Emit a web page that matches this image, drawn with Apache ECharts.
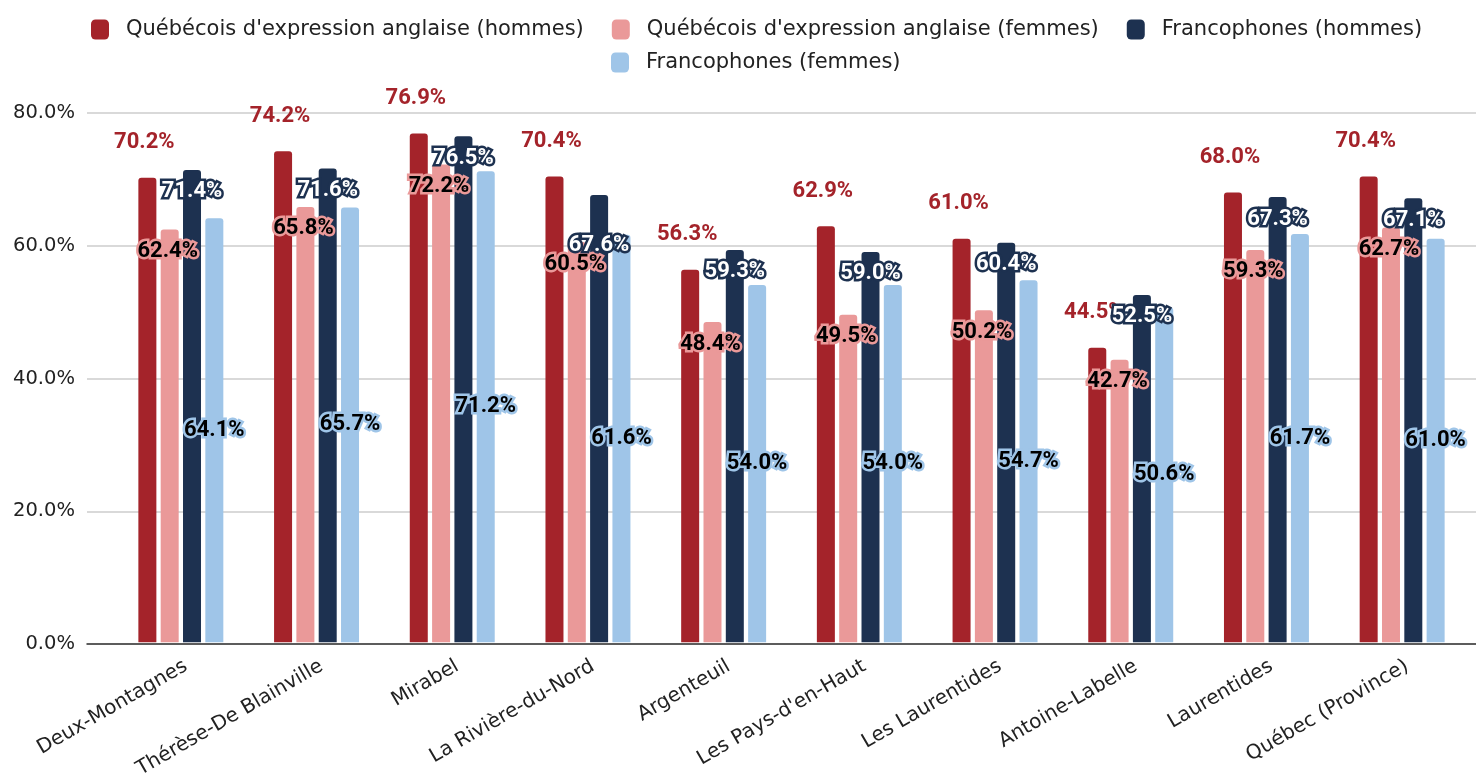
<!DOCTYPE html>
<html>
<head>
<meta charset="utf-8">
<script src="https://cdn.jsdelivr.net/npm/echarts@6/dist/echarts.min.js"></script>
<style>
html,body{margin:0;padding:0;background:#fff;}
#chart{width:1476px;height:781px;}
</style>
</head>
<body>
<div id="chart"></div>
<script>
const categories = ["Deux-Montagnes","Thérèse-De Blainville","Mirabel","La Rivière-du-Nord","Argenteuil","Les Pays-d'en-Haut","Les Laurentides","Antoine-Labelle","Laurentides","Québec (Province)"];
const seriesNames = ["Québécois d'expression anglaise (hommes)","Québécois d'expression anglaise (femmes)","Francophones (hommes)","Francophones (femmes)"];
const qeaHommes = [70.2, 74.2, 76.9, 70.4, 56.3, 62.9, 61.0, 44.5, 68.0, 70.4];
const qeaFemmes = [62.4, 65.8, 72.2, 60.5, 48.4, 49.5, 50.2, 42.7, 59.3, 62.7];
const francoHommes = [71.4, 71.6, 76.5, 67.6, 59.3, 59.0, 60.4, 52.5, 67.3, 67.1];
const francoFemmes = [64.1, 65.7, 71.2, 61.6, 54.0, 54.0, 54.7, 50.6, 61.7, 61.0];
const yTicks = [0, 20, 40, 60, 80];

const colors = ['#a4232a', '#ea9999', '#1d3150', '#9fc5e8'];
const AX_FONT = 'DejaVu Sans';
const LBL_FONT = 'Roboto';
const fmt = p => p.value.toFixed(1) + '%';

const chart = echarts.init(document.getElementById('chart'), null, {renderer: 'canvas'});

const labelBase = {show: true, formatter: fmt, fontFamily: LBL_FONT, fontWeight: 'bold', fontSize: 22};

// Francophones (hommes): one label sits lower in the reference
const francoHommesData = francoHommes.map((v, i) => i === 3 ? {value: v, label: {distance: 39}} : v);

const legendText = {fontFamily: AX_FONT, fontSize: 21, color: '#222', padding: [0, 0, 0, 12]};

const option = {
  animation: false,
  backgroundColor: '#ffffff',
  color: colors,
  legend: [
    {
      data: seriesNames.slice(0, 3),
      top: 14, left: 86,
      itemWidth: 18, itemHeight: 20, itemGap: 28,
      icon: 'roundRect',
      textStyle: legendText
    },
    {
      data: seriesNames.slice(3),
      top: 47, left: 606,
      itemWidth: 18, itemHeight: 20,
      icon: 'roundRect',
      textStyle: legendText
    }
  ],
  grid: [
    {left: 113, right: 6, top: 113, bottom: 137},
    {left: 87, right: 0, top: 113, bottom: 137}
  ],
  xAxis: [
    {
      type: 'category', gridIndex: 0, data: categories,
      axisLine: {show: false}, axisTick: {show: false},
      axisLabel: {rotate: 30, margin: 14, verticalAlign: 'top', fontFamily: AX_FONT, fontSize: 20, color: '#222', interval: 0}
    },
    {
      type: 'value', gridIndex: 1, min: 0, max: 1,
      axisLine: {show: true, lineStyle: {color: '#333', width: 1.5}},
      axisTick: {show: false}, axisLabel: {show: false}, splitLine: {show: false}
    }
  ],
  yAxis: [
    {type: 'value', gridIndex: 0, min: yTicks[0], max: yTicks[yTicks.length - 1], interval: 20, show: false, splitLine: {show: false}},
    {
      type: 'value', gridIndex: 1, min: yTicks[0], max: yTicks[yTicks.length - 1], interval: 20,
      axisLine: {show: false}, axisTick: {show: false},
      axisLabel: {margin: 12, fontFamily: AX_FONT, fontSize: 19.5, color: '#222', formatter: v => v.toFixed(1) + '%'},
      splitLine: {show: true, lineStyle: {color: '#cccccc', width: 1.5}}
    }
  ],
  series: [
    {
      name: seriesNames[0], type: 'bar', xAxisIndex: 0, yAxisIndex: 0, data: qeaHommes,
      barWidth: 18, barGap: '24%',
      itemStyle: {borderRadius: [3, 3, 0, 0]},
      label: Object.assign({}, labelBase, {position: 'top', distance: 24, offset: [-3, 0], color: '#a4232a'})
    },
    {
      name: seriesNames[1], type: 'bar', xAxisIndex: 0, yAxisIndex: 0, data: qeaFemmes,
      barWidth: 18, barGap: '24%',
      itemStyle: {borderRadius: [3, 3, 0, 0]},
      label: Object.assign({}, labelBase, {position: 'insideTop', distance: 11, offset: [-2, 0], color: '#000', textBorderColor: '#ea9999', textBorderWidth: 5})
    },
    {
      name: seriesNames[2], type: 'bar', xAxisIndex: 0, yAxisIndex: 0, data: francoHommesData,
      barWidth: 18, barGap: '24%',
      itemStyle: {borderRadius: [3, 3, 0, 0]},
      label: Object.assign({}, labelBase, {position: 'insideTop', distance: 11, color: '#fff', textBorderColor: '#1d3150', textBorderWidth: 5})
    },
    {
      name: seriesNames[3], type: 'bar', xAxisIndex: 0, yAxisIndex: 0, data: francoFemmes,
      barWidth: 18, barGap: '24%',
      itemStyle: {borderRadius: [3, 3, 0, 0]},
      label: Object.assign({}, labelBase, {position: 'inside', color: '#000', textBorderColor: '#9fc5e8', textBorderWidth: 5})
    }
  ]
};
chart.setOption(option);
</script>
</body>
</html>
